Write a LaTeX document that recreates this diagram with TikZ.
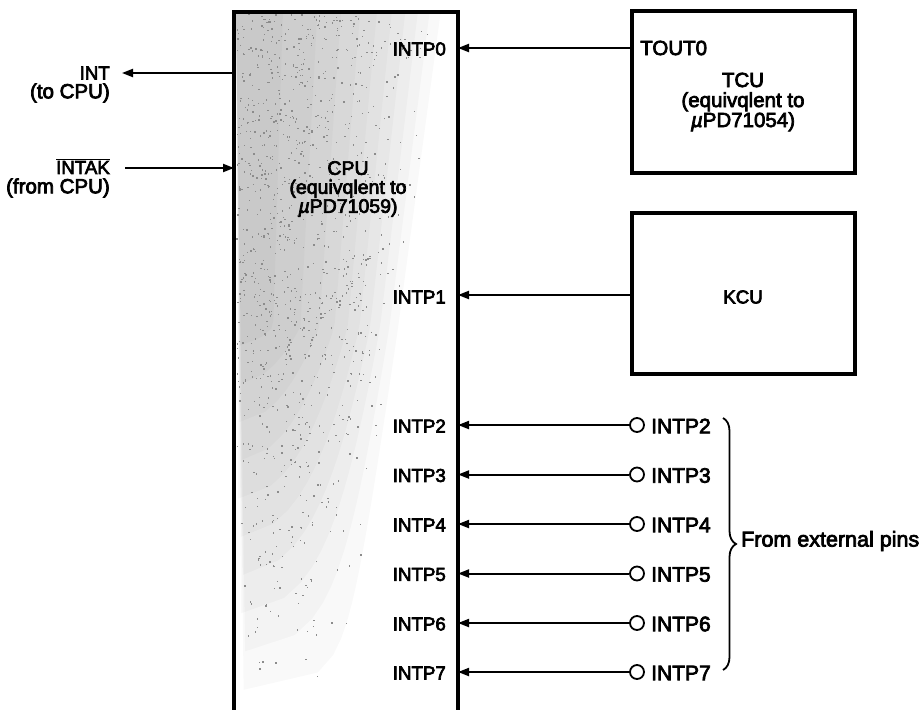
\documentclass[tikz,border=0pt]{standalone}
\usepackage{fontspec}
\setmainfont{Liberation Sans}[FakeBold=3.5]
\usetikzlibrary{arrows.meta,decorations.pathreplacing}
\newcommand{\ovlbar}[1]{$\overline{\hbox{#1}}$}
\newcommand{\muit}{\textit{µ}}
\tikzset{
  boxline/.style={line width=3.2pt},
  conn/.style={line width=2pt},
  arr/.style={conn,-{Triangle[length=11pt,width=8pt]}},
  lbl/.style={inner sep=0pt,font=\fontsize{18.7}{18}\selectfont},
  tlbl/.style={inner sep=0pt,font=\fontsize{20.5}{20}\selectfont},
  rlbl/.style={inner sep=0pt,font=\fontsize{21}{20}\selectfont},
  pin/.style={circle,draw,line width=1.8pt,minimum size=14pt,inner sep=0pt},
  unit/.style={draw,boxline,inner sep=0pt}
}
\begin{document}
\begin{tikzpicture}[x=1pt,y=-1pt]
\useasboundingbox (0,0) rectangle (920,709);
% graded shading inside CPU
\foreach \L in {0.05,0.15,0.25,0.35,0.45,0.55,0.65,0.75,0.85,0.95}{
  \pgfmathsetmacro\vmax{1-0.55*\L}
  \fill[black,fill opacity=0.024] (236,14) -- plot[domain=0:\vmax,samples=40,variable=\t] ({236+214*(0.98-0.45*\t)*sqrt(max(0,1-\L/min(1,(1-\t)/0.55)))},{14+695*\t}) -- cycle;
}
% sparse stipple for texture
\pgfmathsetseed{4711}
\foreach \k in {1,...,3000}{
  \pgfmathsetmacro\px{236+rnd*218}
  \pgfmathsetmacro\py{14+rnd*695}
  \pgfmathsetmacro\uu{(\px-236)/214}
  \pgfmathsetmacro\vv{(\py-14)/695}
  \pgfmathsetmacro\tt{min(1,\uu/(0.98-0.45*\vv))}
  \pgfmathsetmacro\dd{(1-\tt*\tt)*min(1,max(0,(1-\vv)/0.55))}
  \pgfmathtruncatemacro\ok{rnd<\dd ? 1 : 0}
  \ifnum\ok=1 \fill[black!45] (\px,\py) rectangle ++(1.4,1.4);\fi
}
% CPU box
\coordinate (cpuBL) at (234,712);
\coordinate (cpuTL) at (234,12);
\coordinate (cpuTR) at (458,12);
\coordinate (cpuBR) at (458,712);
\draw[boxline] (cpuBL) -- (cpuTL) -- (cpuTR) -- (cpuBR);
\node[tlbl,align=center,font=\fontsize{19.5}{19}\selectfont] (cpu) at (348,189) {CPU\\(equivqlent to\\\muit PD71059)};
% TCU and KCU
\node[unit,minimum width=223pt,minimum height=162pt] (tcu) at (743.5,92) {};
\node[tlbl,align=center,font=\fontsize{20.5}{20}\selectfont] (tcutxt) at (743,102) {TCU\\(equivqlent to\\\muit PD71054)};
\node[tlbl,anchor=west] (tout) at (640,48) {TOUT0};
\node[unit,minimum width=223pt,minimum height=161pt] (kcu) at (743.5,293.5) {};
\node[lbl] (kcutxt) at (743,297) {KCU};
% CPU pin coordinates
\coordinate (p0) at (458,48);
\coordinate (p1) at (458,295);
\coordinate (t0) at (632,48);
\coordinate (k1) at (632,295);
\draw[arr] (t0) -- (p0);
\draw[arr] (k1) -- (p1);
\node[lbl,anchor=east] (lp0) at (446,49) {INTP0};
\node[lbl,anchor=east] (lp1) at (446,297) {INTP1};
% external pins
\foreach \i/\y in {2/425,3/474.5,4/524,5/573.5,6/623,7/672}{
  \coordinate (c\i) at (458,\y);
  \node[pin] (e\i) at (637,\y) {};
  \draw[arr] (e\i) -- (c\i);
  \node[lbl,anchor=east] (li\i) at (446,\y+1) {INTP\i};
  \node[rlbl,anchor=west] (ri\i) at (651,\y+1) {INTP\i};
}
% brace
\coordinate (bt) at (723,418);
\coordinate (bb) at (723,670);
\draw[line width=1.8pt,decorate,decoration={brace,amplitude=13pt}] (bt) -- (bb);
\node[rlbl,anchor=west,font=\fontsize{21.5}{20}\selectfont] (ext) at (741,541) {From external pins};
% INT / INTAK
\coordinate (intL) at (234,73);
\coordinate (intR) at (122,73);
\draw[arr] (intL) -- (intR);
\node[lbl,anchor=east] (intlbl) at (110,73) {INT};
\node[tlbl,anchor=east] (intlbl2) at (110,93) {(to CPU)};
\coordinate (akL) at (125,168);
\coordinate (akR) at (234,168);
\draw[arr] (akL) -- (akR);
\node[lbl,anchor=east] (aklbl) at (110,166.5) {\ovlbar{INTAK}};
\node[tlbl,anchor=east] (aklbl2) at (110,188) {(from CPU)};
\end{tikzpicture}
\end{document}
